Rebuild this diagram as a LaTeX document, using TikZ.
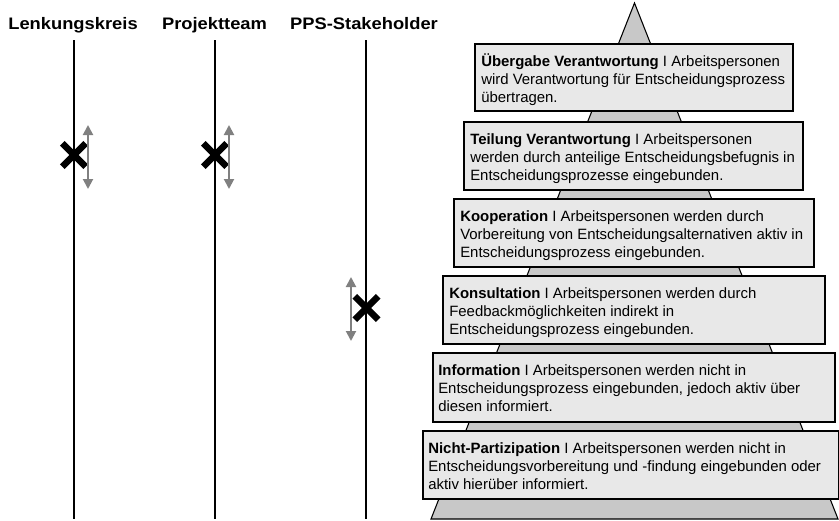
\documentclass[tikz,border=0pt]{standalone}
\usepackage{fontspec}
\usepackage{graphicx}
\setmainfont{Liberation Sans}
\usetikzlibrary{arrows.meta,shapes.misc}
\definecolor{boxfill}{RGB}{232,232,232}
\definecolor{pyrfill}{RGB}{200,200,200}
\definecolor{arrowgray}{RGB}{128,128,128}
% strut that fixes the first baseline 14px below the top of a text block
\newcommand{\firstline}{\rule{0pt}{10.5pt}}

\begin{document}
\begin{tikzpicture}[x=0.75pt,y=-0.75pt,
  header/.style={font=\fontsize{12.5}{15}\selectfont\bfseries, inner sep=0pt, anchor=base},
  lane/.style={line width=1pt, black},
  level/.style={draw=black, line width=1pt, fill=boxfill},
  leveltext/.style={font=\fontsize{11.2}{13.5}\selectfont, align=left, inner sep=0pt, anchor=north west},
  xmark/.style={cross out, draw=black, line width=5pt, minimum size=12.5pt, inner sep=0pt},
  movearrow/.style={arrowgray, line width=1.5pt,
    {Triangle[width=7.5pt,length=7.5pt]}-{Triangle[width=7.5pt,length=7.5pt]}}
]
\useasboundingbox (0,0) rectangle (839,521);

% column headers
\node[header] (hL) at (73,29) {\scalebox{1.1}[1]{Lenkungskreis}};
\node[header] (hP) at (214.5,29) {\scalebox{1.1}[1]{Projektteam}};
\node[header] (hS) at (364,29) {\scalebox{1.1}[1]{PPS-Stakeholder}};

% lanes
\coordinate (lTop) at (74,40);   \coordinate (lBot) at (74,519);
\coordinate (pTop) at (215,40);  \coordinate (pBot) at (215,519);
\coordinate (sTop) at (366,40);  \coordinate (sBot) at (366,519);
\draw[lane] (lTop) -- (lBot);
\draw[lane] (pTop) -- (pBot);
\draw[lane] (sTop) -- (sBot);

% participation marks with their range arrows
\node[xmark] (xL) at (74,155) {};
\node[xmark] (xP) at (215,155) {};
\node[xmark] (xS) at (366.5,308) {};
\coordinate (aLt) at (88,125);  \coordinate (aLb) at (88,189);
\coordinate (aPt) at (229,125); \coordinate (aPb) at (229,189);
\coordinate (aSt) at (351,277); \coordinate (aSb) at (351,341);
\draw[movearrow] (aLt) -- (aLb);
\draw[movearrow] (aPt) -- (aPb);
\draw[movearrow] (aSt) -- (aSb);

% pyramid
\coordinate (apex) at (634.5,3);
\coordinate (baseR) at (838,519);
\coordinate (baseL) at (431,519);
\draw[line width=0.8pt, fill=pyrfill] (apex) -- (baseR) -- (baseL) -- cycle;

% levels, top to bottom
\draw[level] (475,44) rectangle (793,111);
\node[leveltext] (t1) at (481,52) {\firstline\textbf{Übergabe Verantwortung} I Arbeitspersonen\\
wird Verantwortung für Entscheidungsprozess\\
übertragen.};

\draw[level] (464,122) rectangle (803,190);
\node[leveltext] (t2) at (470,130) {\firstline\textbf{Teilung Verantwortung} I Arbeitspersonen\\
werden durch anteilige Entscheidungsbefugnis in\\
Entscheidungsprozesse eingebunden.};

\draw[level] (454,199) rectangle (814,267);
\node[leveltext] (t3) at (460,207) {\firstline\textbf{Kooperation} I Arbeitspersonen werden durch\\
Vorbereitung von Entscheidungsalternativen aktiv in\\
Entscheidungsprozess eingebunden.};

\draw[level] (443,276) rectangle (825,344);
\node[leveltext] (t4) at (449,284) {\firstline\textbf{Konsultation} I Arbeitspersonen werden durch\\
Feedbackmöglichkeiten indirekt in\\
Entscheidungsprozess eingebunden.};

\draw[level] (433,353) rectangle (835,422);
\node[leveltext] (t5) at (438,361) {\firstline\textbf{Information} I Arbeitspersonen werden nicht in\\
Entscheidungsprozess eingebunden, jedoch aktiv über\\
diesen informiert.};

\draw[level] (423,431) rectangle (838.3,499);
\node[leveltext] (t6) at (428,439) {\firstline\textbf{Nicht-Partizipation} I Arbeitspersonen werden nicht in\\
Entscheidungsvorbereitung und -findung eingebunden oder\\
aktiv hierüber informiert.};
\end{tikzpicture}
\end{document}
